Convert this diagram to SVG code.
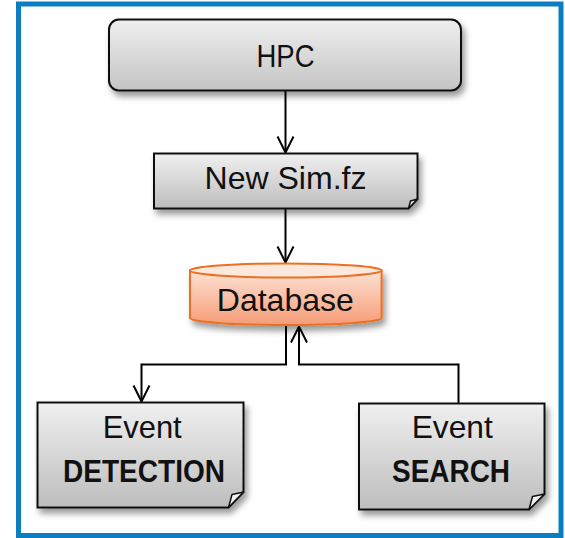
<svg xmlns="http://www.w3.org/2000/svg" width="565" height="538" viewBox="0 0 565 538">
  <defs>
    <linearGradient id="grayFill" x1="0" y1="0" x2="0" y2="1">
      <stop offset="0" stop-color="#efefef"/>
      <stop offset="1" stop-color="#c4c4c4"/>
    </linearGradient>
    <linearGradient id="docFill" x1="0" y1="0" x2="0" y2="1">
      <stop offset="0" stop-color="#f0f0f0"/>
      <stop offset="1" stop-color="#bdbdbd"/>
    </linearGradient>
    <linearGradient id="foldFill" x1="0" y1="0" x2="1" y2="1">
      <stop offset="0" stop-color="#ffffff"/>
      <stop offset="1" stop-color="#d8d8d8"/>
    </linearGradient>
    <linearGradient id="dbBody" x1="0" y1="0" x2="0" y2="1">
      <stop offset="0" stop-color="#fde2d5"/>
      <stop offset="1" stop-color="#f69c76"/>
    </linearGradient>
    <filter id="shadow" x="-10%" y="-10%" width="125%" height="140%">
      <feDropShadow dx="3" dy="5" stdDeviation="3" flood-color="#000" flood-opacity="0.4"/>
    </filter>
    <marker id="arrow" markerUnits="userSpaceOnUse" markerWidth="20" markerHeight="20" viewBox="-18 -10 20 20" refX="0" refY="0" orient="auto">
      <path d="M-16,-8 L0,0 L-16,8" fill="none" stroke="#000" stroke-width="2"/>
    </marker>
  </defs>
  <style>
    .label { font-family: "Liberation Sans", Arial, sans-serif; font-size: 32px; fill: #111; text-anchor: middle; }
    .bold { font-weight: bold; }
    .box { stroke: #111; stroke-width: 2; }
    .wire { fill: none; stroke: #000; stroke-width: 2; }
    .fold { fill: url(#foldFill); stroke: #111; stroke-width: 1.5; stroke-linejoin: round; }
  </style>

  <rect x="0" y="0" width="565" height="538" fill="#ffffff"/>

  <!-- outer frame -->
  <rect x="18.5" y="4" width="542.5" height="531.5" fill="none" stroke="#0b7ec1" stroke-width="5"/>

  <!-- connectors -->
  <g id="connectors">
    <line class="wire" x1="285.5" y1="91" x2="285.5" y2="152.5" marker-end="url(#arrow)"/>
    <line class="wire" x1="285.5" y1="208.5" x2="285.5" y2="262.5" marker-end="url(#arrow)"/>
    <polyline class="wire" points="286,325 286,364.5 141.5,364.5 141.5,401.5" marker-end="url(#arrow)"/>
    <polyline class="wire" points="458.5,403.5 458.5,364.5 299,364.5 299,326.5" marker-end="url(#arrow)"/>
  </g>

  <!-- HPC -->
  <g id="hpc">
    <rect class="box" x="109" y="19.5" width="352" height="71" rx="10" ry="10" fill="url(#grayFill)" filter="url(#shadow)"/>
    <text class="label" x="285.5" y="67.3" textLength="58" lengthAdjust="spacingAndGlyphs">HPC</text>
  </g>

  <!-- New Sim.fz -->
  <g id="newsim">
    <path class="box" d="M154,153.5 H417.5 V199 L408.5,208.5 H154 Z" fill="url(#docFill)" filter="url(#shadow)"/>
    <path class="fold" d="M408.5,208.5 L410.5,201 L417.5,199 Z"/>
    <text class="label" x="285.5" y="189.3" textLength="162" lengthAdjust="spacingAndGlyphs">New Sim.fz</text>
  </g>

  <!-- Database -->
  <g id="database">
    <path d="M190,270.5 V318 A95.8,7 0 0 0 381.6,318 V270.5 Z" fill="url(#dbBody)" stroke="#ec7021" stroke-width="2" filter="url(#shadow)"/>
    <ellipse cx="285.8" cy="270.5" rx="95.8" ry="7" fill="#fde8de" stroke="#ec7021" stroke-width="2"/>
    <text class="label" x="285.3" y="311" textLength="137" lengthAdjust="spacingAndGlyphs">Database</text>
  </g>

  <!-- Event DETECTION -->
  <g id="event-detection">
    <path class="box" d="M37.5,402.5 H243.5 V492 L228.5,507.5 H37.5 Z" fill="url(#docFill)" filter="url(#shadow)"/>
    <path class="fold" d="M228.5,507.5 L232,494.5 L243.5,492 Z"/>
    <text class="label" x="142.2" y="437.7" textLength="79" lengthAdjust="spacingAndGlyphs">Event</text>
    <text class="label bold" x="144" y="482.3" textLength="162" lengthAdjust="spacingAndGlyphs">DETECTION</text>
  </g>

  <!-- Event SEARCH -->
  <g id="event-search">
    <path class="box" d="M359,403.5 H544.5 V494 L529,509.5 H359 Z" fill="url(#docFill)" filter="url(#shadow)"/>
    <path class="fold" d="M529,509.5 L532.5,496.5 L544.5,494 Z"/>
    <text class="label" x="452.2" y="438" textLength="81" lengthAdjust="spacingAndGlyphs">Event</text>
    <text class="label bold" x="451" y="482.3" textLength="118" lengthAdjust="spacingAndGlyphs">SEARCH</text>
  </g>
</svg>
